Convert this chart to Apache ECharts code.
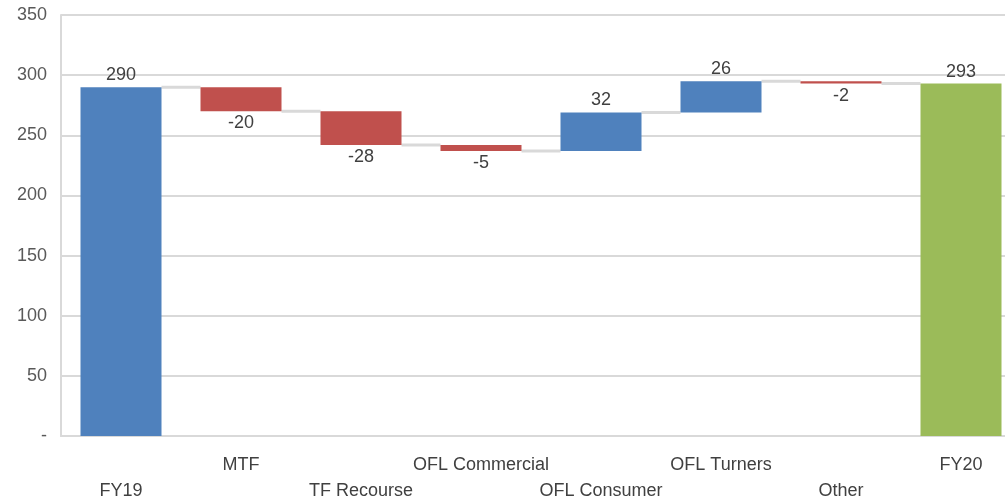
<!DOCTYPE html>
<html><head><meta charset="utf-8">
<script src="https://cdn.jsdelivr.net/npm/echarts@6/dist/echarts.min.js"></script>
<style>html,body{margin:0;padding:0;background:#fff}#c{width:1005px;height:501px}</style>
</head><body><div id="c"></div>
<script>
const categories = ['FY19','MTF','TF Recourse','OFL Commercial','OFL Consumer','OFL Turners','Other','FY20'];
const changes = [290, -20, -28, -5, 32, 26, -2, 293];
const isTotal = [true, false, false, false, false, false, false, true];
const yTicks = { min: 0, max: 350, interval: 50 };

const BLUE = '#4f81bd', RED = '#c0504d', GREEN = '#9bbb59';
const FONT = 'Liberation Sans, Arial, sans-serif';
const BAR_RATIO = 0.675;

// derive base / visible heights and running levels from the change values
const base = [], height = [], levels = [], colors = [];
let run = 0;
changes.forEach((v, i) => {
  if (isTotal[i]) {
    base.push(0); height.push(v); run = v;
    colors.push(i === 0 ? BLUE : GREEN);
  } else {
    const end = run + v;
    base.push(Math.min(run, end)); height.push(Math.abs(v)); run = end;
    colors.push(v >= 0 ? BLUE : RED);
  }
  levels.push(run);
});

const chart = echarts.init(document.getElementById('c'), null, { renderer: 'canvas' });
chart.setOption({
  animation: false,
  grid: { left: 61, right: -16, top: 15, bottom: 65, containLabel: false, outerBoundsMode: 'none' },
  xAxis: {
    type: 'category', data: categories,
    axisLine: { show: true, lineStyle: { color: '#d9d9d9', width: 2 } },
    axisTick: { show: false },
    axisLabel: {
      interval: 0, margin: 16, color: '#404040', fontSize: 18, fontFamily: FONT, lineHeight: 26,
      formatter: (v, i) => (i % 2 === 0 ? '\n' + v : v)
    },
    splitLine: { show: false }
  },
  yAxis: {
    type: 'value', min: yTicks.min, max: yTicks.max, interval: yTicks.interval,
    axisLine: { show: true, lineStyle: { color: '#d9d9d9', width: 2 } },
    axisTick: { show: false },
    axisLabel: { margin: 14, color: '#595959', fontSize: 18, fontFamily: FONT, padding: [4, 0, 0, 0],
      formatter: v => (v === 0 ? '-' : String(v)) },
    splitLine: { show: true, lineStyle: { color: '#d9d9d9', width: 2 } }
  },
  series: [
    {
      type: 'custom', z: 1,
      renderItem: (params, api) => {
        const i = api.value(0);
        if (i >= categories.length - 1) return null;
        const lvl = api.value(1);
        const p = api.coord([i, lvl]);
        const band = api.size([1, 0])[0];
        const half = band * BAR_RATIO / 2;
        return {
          type: 'line',
          shape: { x1: p[0] + half, y1: p[1], x2: p[0] + band - half, y2: p[1] },
          style: { stroke: '#d9d9d9', lineWidth: 3 }
        };
      },
      data: levels.map((l, i) => [i, l])
    },
    {
      type: 'bar', stack: 'w', barWidth: (BAR_RATIO * 100) + '%', z: 2,
      itemStyle: { color: 'transparent' },
      data: base
    },
    {
      type: 'bar', stack: 'w', z: 2,
      data: height.map((h, i) => ({
        value: h,
        itemStyle: { color: colors[i] },
        label: {
          show: true,
          position: (changes[i] < 0) ? 'bottom' : 'top',
          distance: 3,
          formatter: String(changes[i]),
          color: '#404040', fontSize: 18, fontFamily: FONT
        }
      }))
    }
  ]
});
</script></body></html>
